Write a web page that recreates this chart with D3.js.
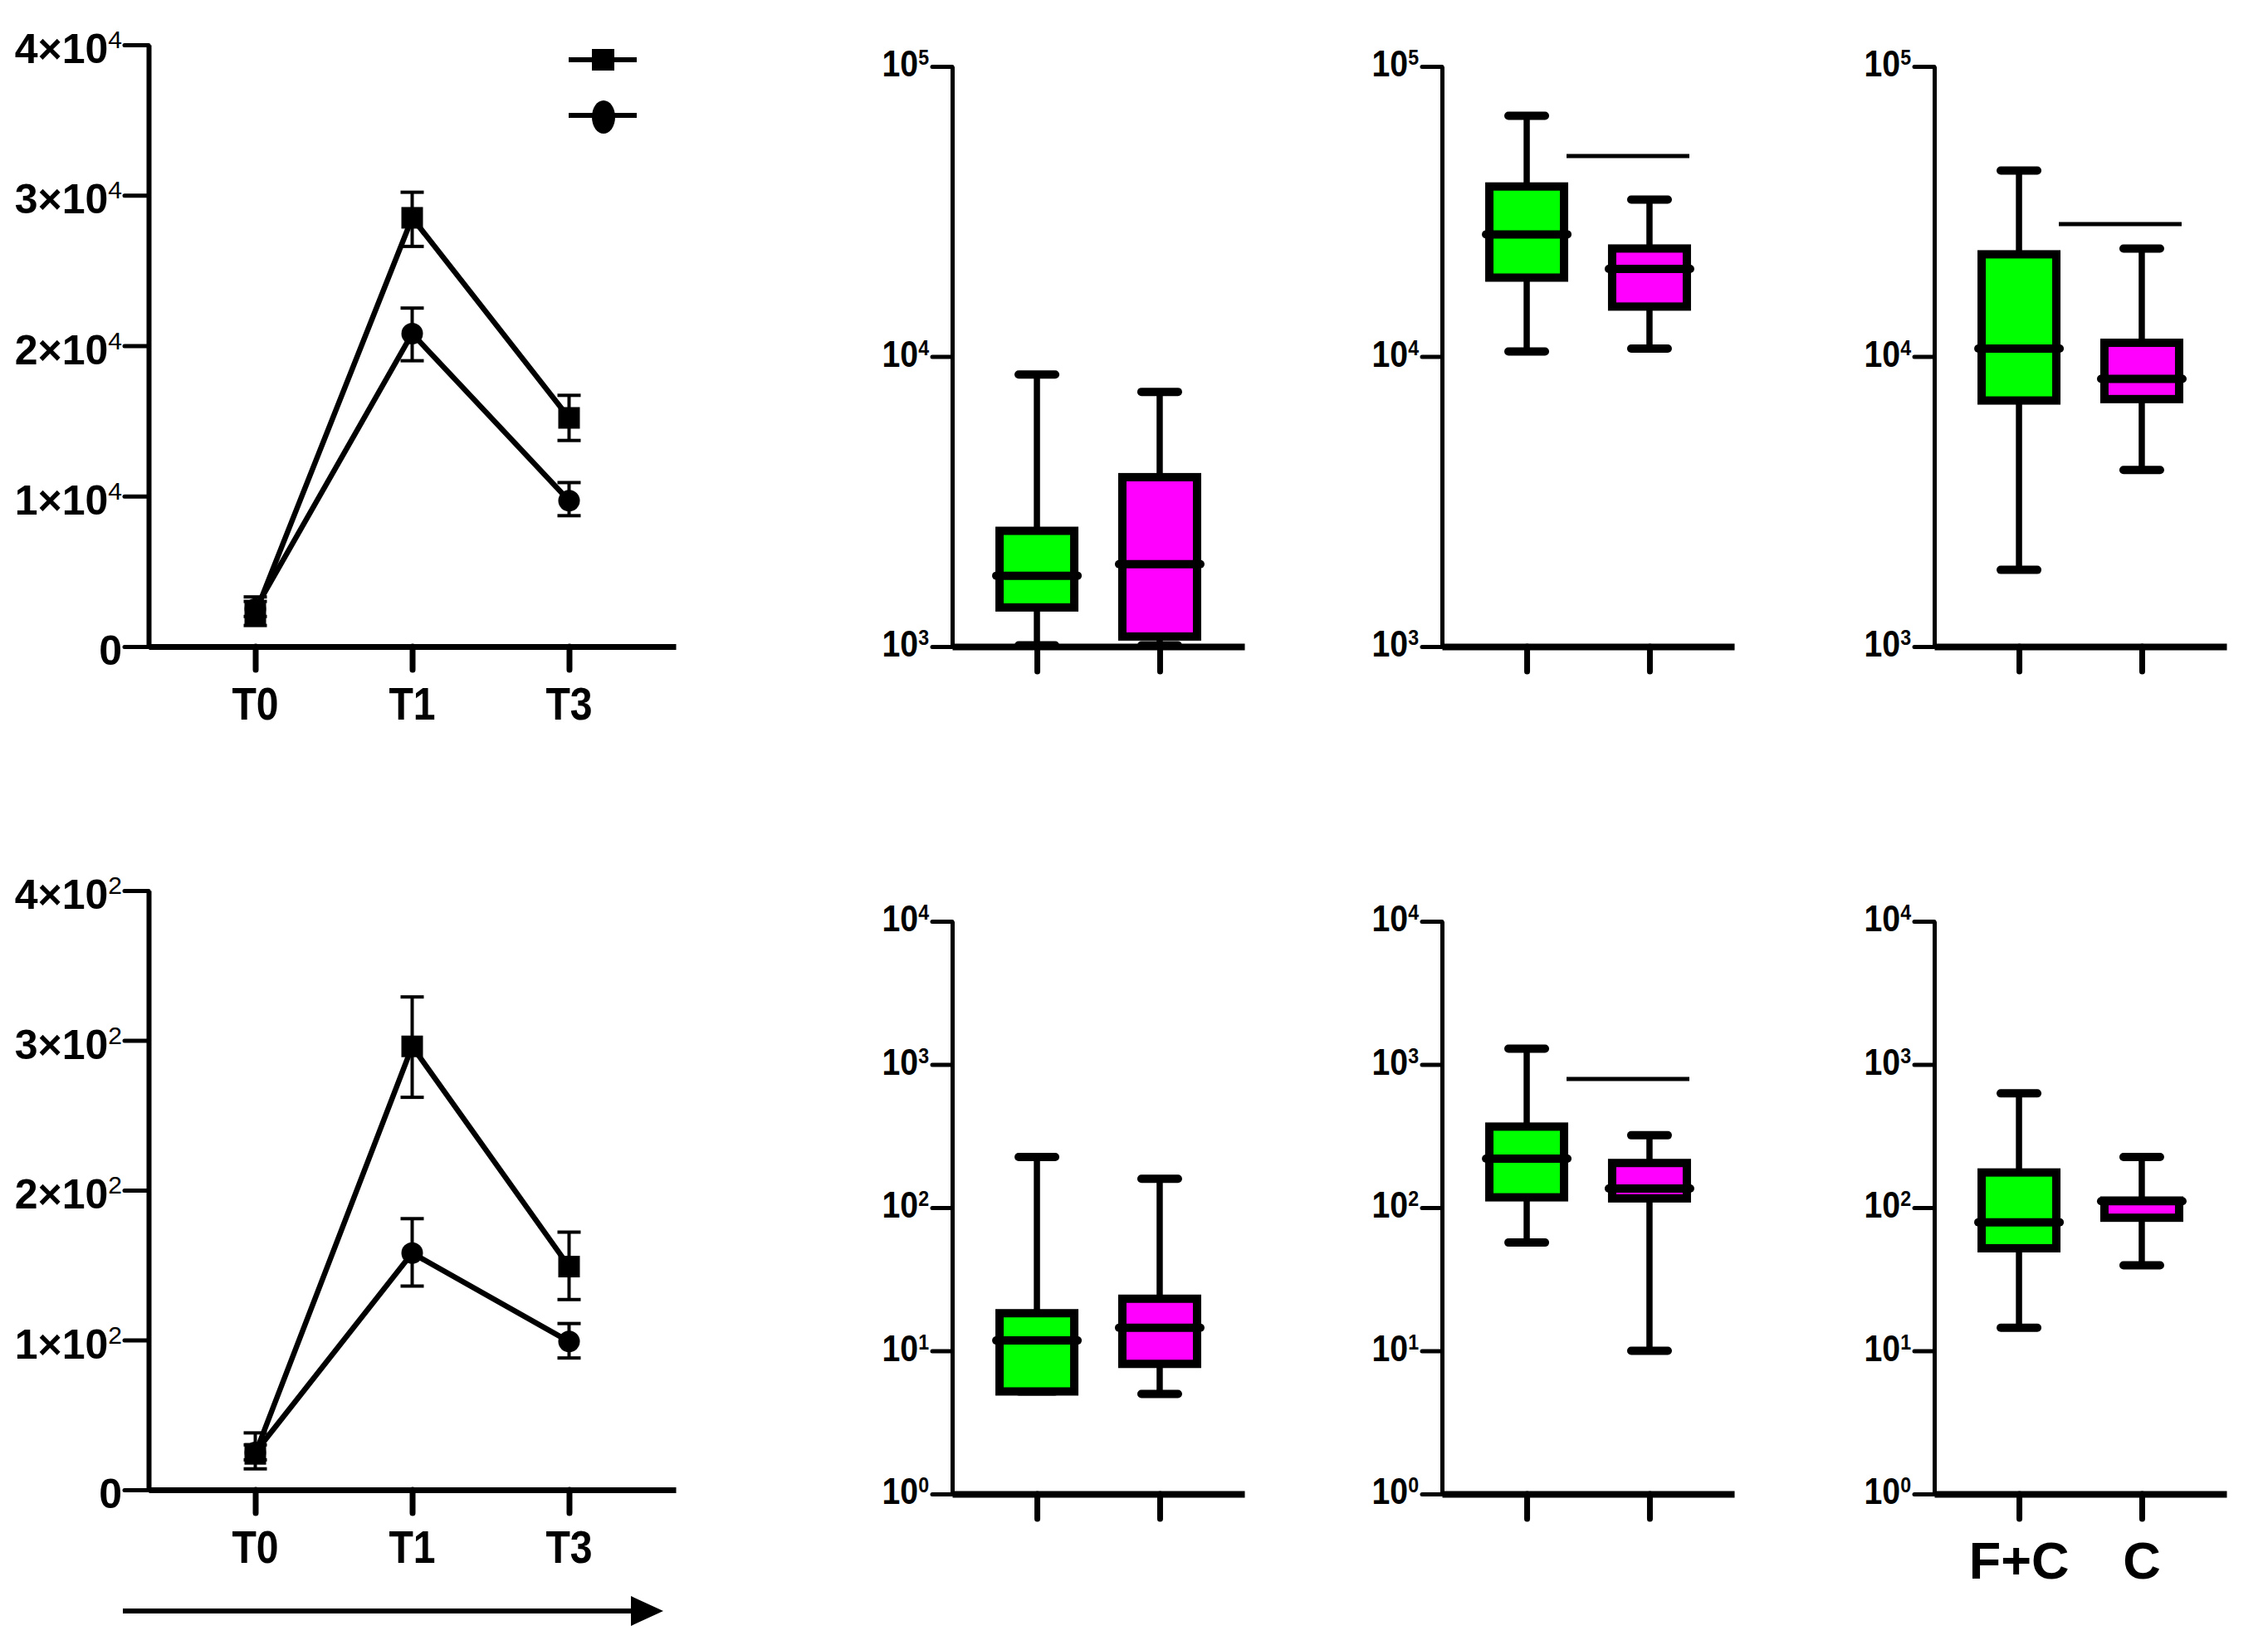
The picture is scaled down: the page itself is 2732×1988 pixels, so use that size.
<!DOCTYPE html>
<html><head><meta charset="utf-8">
<script src="https://cdn.jsdelivr.net/npm/d3@7"></script>
<style>body{margin:0;background:#fff} svg{display:block}</style>
</head><body>
<svg id="c" width="2732" height="1988"></svg>
<script>
// ---------- DATA ----------
const timeCats = ["T0", "T1", "T3"];
const groups = ["F+C", "C"];

// top-left line panel (linear)
const topTicks = [0, 10000, 20000, 30000, 40000];
const topTickLabels = [["0", ""], ["1×10", "4"], ["2×10", "4"], ["3×10", "4"], ["4×10", "4"]];
const topSquare   = [2200, 28500, 15200];
const topSquareHi = [3300, 30200, 16700];
const topSquareLo = [1400, 26600, 13700];
const topCircle   = [2500, 20800, 9700];
const topCircleHi = [3000, 22500, 10900];
const topCircleLo = [2000, 19000, 8700];

// bottom-left line panel (linear)
const botTicks = [0, 100, 200, 300, 400];
const botTickLabels = [["0", ""], ["1×10", "2"], ["2×10", "2"], ["3×10", "2"], ["4×10", "2"]];
const botSquare   = [24, 296, 149];
const botSquareHi = [38, 329, 172];
const botSquareLo = [14, 262, 127];
const botCircle   = [25, 158, 99];
const botCircleHi = [30, 181, 111];
const botCircleLo = [20, 136, 88];

// box plots: [min, q1, median, q3, max]
const topLogTicks = [1e3, 1e4, 1e5];
const topLogExp = ["3", "4", "5"];
const botLogTicks = [1, 10, 100, 1000, 10000];
const botLogExp = ["0", "1", "2", "3", "4"];

const boxB_FC = [1010, 1364, 1755, 2506, 8670];
const boxB_C  = [1010, 1083, 1923, 3837, 7550];
const boxC_FC = [10400, 18700, 26360, 38550, 67600];
const boxC_C  = [10640, 14860, 20050, 23560, 34750];
const sigC = 49100;
const boxD_FC = [1838, 7050, 10640, 22500, 43750];
const boxD_C  = [4060, 7130, 8370, 11150, 23560];
const sigD = 28600;

const boxE_FC = [5.2, 5.2, 11.8, 18.3, 226];
const boxE_C  = [5.0, 8.1, 14.5, 23.1, 159];
const boxF_FC = [57, 118, 220, 368, 1290];
const boxF_C  = [10, 116, 136, 205, 320];
const sigF = 792;
const boxG_FC = [14.5, 52, 79, 176, 628];
const boxG_C  = [39.5, 85, 111, 112, 226];

// ---------- DRAW ----------
const svg = d3.select("#c");
const FONT = "'Liberation Sans', Arial, sans-serif";
const GREEN = "#00ff00", MAGENTA = "#ff00ff";

function styleAxis(g, w, tw) {
  g.select(".domain").attr("stroke", "#000").attr("stroke-width", w);
  g.selectAll(".tick line").attr("stroke", "#000").attr("stroke-width", tw).attr("stroke-linecap", "round");
  g.selectAll(".tick text").remove();
}

function linePanel(cfg) {
  const y = d3.scaleLinear().domain([0, cfg.ticks[cfg.ticks.length - 1]]).range([cfg.y0, cfg.y1]);
  const x = d3.scalePoint().domain(timeCats).range([cfg.ax, cfg.ax + 635]).padding(0.68);
  const g = svg.append("g");
  const ya = g.append("g").attr("transform", `translate(${cfg.ax},0)`)
    .call(d3.axisLeft(y).tickValues(cfg.ticks).tickSize(29).tickSizeOuter(0));
  styleAxis(ya, 6, 5);
  const xa = g.append("g").attr("transform", `translate(0,${cfg.y0})`)
    .call(d3.axisBottom(x).tickSize(28).tickSizeOuter(0));
  styleAxis(xa, 7, 7);
  cfg.ticks.forEach((v, i) => {
    const [base, sup] = cfg.labels[i];
    const t = g.append("text").attr("x", cfg.ax - 32).attr("y", y(v) + 22)
      .attr("text-anchor", "end").attr("font-family", FONT).attr("font-weight", "bold").attr("font-size", 50);
    t.append("tspan").text(base);
    if (sup) t.append("tspan").attr("font-size", 30).attr("font-weight", "normal").attr("dy", -18).text(sup);
  });
  timeCats.forEach(c => {
    g.append("g").attr("transform", `translate(${x(c)},${cfg.y0 + 88}) scale(0.86,1)`)
      .append("text").attr("text-anchor", "middle")
      .attr("font-family", FONT).attr("font-weight", "bold").attr("font-size", 56).text(c);
  });
  const line = d3.line().x((d, i) => x(timeCats[i])).y(d => y(d));
  [cfg.sq, cfg.ci].forEach(s => {
    g.append("path").datum(s).attr("d", line).attr("fill", "none").attr("stroke", "#000").attr("stroke-width", 6.5);
  });
  [[cfg.sqHi, cfg.sqLo], [cfg.ciHi, cfg.ciLo]].forEach(([hi, lo]) => {
    timeCats.forEach((c, i) => {
      const cx = x(c);
      g.append("line").attr("x1", cx).attr("x2", cx).attr("y1", y(hi[i])).attr("y2", y(lo[i]))
        .attr("stroke", "#000").attr("stroke-width", 4);
      [hi[i], lo[i]].forEach(v => g.append("line").attr("x1", cx - 14).attr("x2", cx + 14)
        .attr("y1", y(v)).attr("y2", y(v)).attr("stroke", "#000").attr("stroke-width", 4));
    });
  });
  timeCats.forEach((c, i) => {
    g.append("circle").attr("cx", x(c)).attr("cy", y(cfg.ci[i])).attr("r", 13).attr("fill", "#000");
    g.append("rect").attr("x", x(c) - 13).attr("y", y(cfg.sq[i]) - 13).attr("width", 26).attr("height", 26).attr("fill", "#000");
  });
}

linePanel({ax: 179, y0: 779, y1: 54, ticks: topTicks, labels: topTickLabels,
  sq: topSquare, sqHi: topSquareHi, sqLo: topSquareLo, ci: topCircle, ciHi: topCircleHi, ciLo: topCircleLo});
linePanel({ax: 179, y0: 1795, y1: 1073, ticks: botTicks, labels: botTickLabels,
  sq: botSquare, sqHi: botSquareHi, sqLo: botSquareLo, ci: botCircle, ciHi: botCircleHi, ciLo: botCircleLo});

// legend (symbols only)
[[72, "sq"], [139, "ci"]].forEach(([ly, k]) => {
  svg.append("line").attr("x1", 685).attr("x2", 767).attr("y1", ly).attr("y2", ly).attr("stroke", "#000").attr("stroke-width", 6);
  if (k === "sq") svg.append("rect").attr("x", 713).attr("y", ly - 13).attr("width", 27).attr("height", 26).attr("fill", "#000");
  else svg.append("ellipse").attr("cx", 727).attr("cy", ly + 2).attr("rx", 14).attr("ry", 20).attr("fill", "#000");
});

// arrow
svg.append("line").attr("x1", 148).attr("x2", 770).attr("y1", 1941).attr("y2", 1941).attr("stroke", "#000").attr("stroke-width", 6);
svg.append("path").attr("d", "M760,1923 L799,1941 L760,1959 Z").attr("fill", "#000");

function boxPanel(cfg) {
  const y = d3.scaleLog().domain([cfg.ticks[0], cfg.ticks[cfg.ticks.length - 1]]).range([cfg.y0, cfg.y1]);
  const x = d3.scalePoint().domain(groups).range([cfg.ax, cfg.ax + 352]).padding(0.69);
  const g = svg.append("g");
  const ya = g.append("g").attr("transform", `translate(${cfg.ax},0)`)
    .call(d3.axisLeft(y).tickValues(cfg.ticks).tickSize(24).tickSizeOuter(0));
  styleAxis(ya, 5, 5);
  const xa = g.append("g").attr("transform", `translate(0,${cfg.y0})`)
    .call(d3.axisBottom(x).tickSize(30).tickSizeOuter(0));
  styleAxis(xa, 8, 7);
  cfg.ticks.forEach((v, i) => {
    const tg = g.append("g").attr("transform", `translate(${cfg.ax - 28},${y(v) + 12}) scale(0.89,1)`);
    const t = tg.append("text").attr("text-anchor", "end").attr("font-family", FONT)
      .attr("font-weight", "bold").attr("font-size", 44);
    t.append("tspan").text("10");
    t.append("tspan").attr("font-size", 26).attr("dy", -14).text(cfg.exp[i]);
  });
  const bw = 90;
  [[cfg.a, GREEN, groups[0]], [cfg.b, MAGENTA, groups[1]]].forEach(([d, col, c]) => {
    const cx = x(c);
    const [mn, q1, md, q3, mx] = d;
    g.append("line").attr("x1", cx).attr("x2", cx).attr("y1", y(mx)).attr("y2", y(mn)).attr("stroke", "#000").attr("stroke-width", 7.5);
    [mn, mx].forEach(v => g.append("line").attr("x1", cx - 22).attr("x2", cx + 22).attr("y1", y(v)).attr("y2", y(v))
      .attr("stroke", "#000").attr("stroke-width", 10).attr("stroke-linecap", "round"));
    g.append("rect").attr("x", cx - bw / 2).attr("y", y(q3)).attr("width", bw).attr("height", y(q1) - y(q3))
      .attr("fill", col).attr("stroke", "#000").attr("stroke-width", 10);
    g.append("line").attr("x1", cx - 49).attr("x2", cx + 49).attr("y1", y(md)).attr("y2", y(md))
      .attr("stroke", "#000").attr("stroke-width", 10).attr("stroke-linecap", "round");
  });
  if (cfg.sig) {
    g.append("line").attr("x1", x(groups[0]) + bw / 2 + 3).attr("x2", x(groups[1]) + bw / 2 + 3)
      .attr("y1", y(cfg.sig)).attr("y2", y(cfg.sig)).attr("stroke", "#000").attr("stroke-width", 5);
  }
  if (cfg.catLabels) {
    groups.forEach(c => g.append("text").attr("x", x(c)).attr("y", cfg.y0 + 102).attr("text-anchor", "middle")
      .attr("font-family", FONT).attr("font-weight", "bold").attr("font-size", 63).text(c));
  }
}

boxPanel({ax: 1147, y0: 779, y1: 80, ticks: topLogTicks, exp: topLogExp, a: boxB_FC, b: boxB_C});
boxPanel({ax: 1737, y0: 779, y1: 80, ticks: topLogTicks, exp: topLogExp, a: boxC_FC, b: boxC_C, sig: sigC});
boxPanel({ax: 2330, y0: 779, y1: 80, ticks: topLogTicks, exp: topLogExp, a: boxD_FC, b: boxD_C, sig: sigD});
boxPanel({ax: 1147, y0: 1800, y1: 1110, ticks: botLogTicks, exp: botLogExp, a: boxE_FC, b: boxE_C});
boxPanel({ax: 1737, y0: 1800, y1: 1110, ticks: botLogTicks, exp: botLogExp, a: boxF_FC, b: boxF_C, sig: sigF});
boxPanel({ax: 2330, y0: 1800, y1: 1110, ticks: botLogTicks, exp: botLogExp, a: boxG_FC, b: boxG_C, catLabels: true});
</script>
</body></html>
